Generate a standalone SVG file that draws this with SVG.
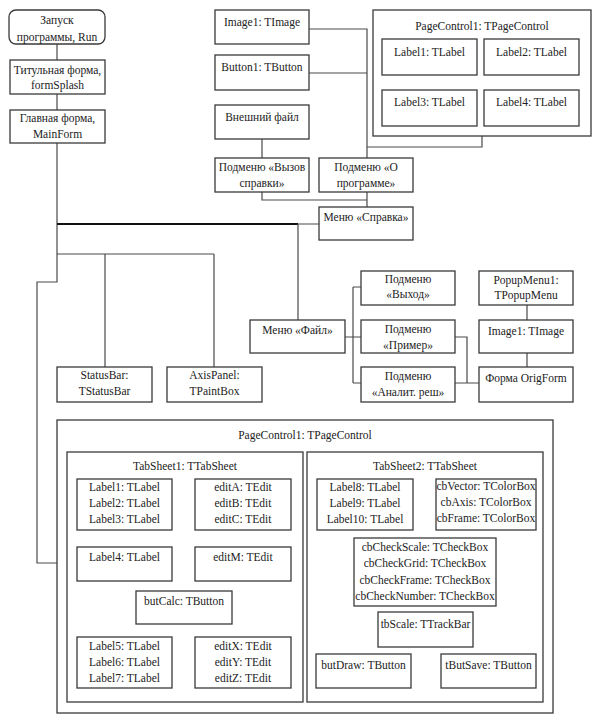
<svg xmlns="http://www.w3.org/2000/svg" width="594" height="722" viewBox="0 0 594 722">
<style>
rect{fill:#fff;stroke:#3a3a3a;stroke-width:1.3}
text{font-family:"Liberation Serif","Times New Roman",serif;font-size:11.5px;fill:#222;text-anchor:middle}
.c{fill:none;stroke:#4a4a4a;stroke-width:1.2}
.t{fill:none;stroke:#111;stroke-width:2}
</style>
<rect x="0" y="0" width="594" height="722" style="fill:#fff;stroke:none"/>
<g id="connectors">
<path class="c" d="M57 44V60M57 94V110M57 143V282H37V563H57"/>
<path class="t" d="M57 224H298"/>
<path class="c" d="M298 224H319M298 224V320"/>
<path class="c" d="M57 254H214M105 254V367M214 254V367"/>
<path class="c" d="M262 139V158M262 192V200H367M309 29H367V158M309 73H367M367 147H482V136M367 192V207"/>
<path class="c" d="M345 337H361M353 287V383M353 287H361M353 383H361"/>
<path class="c" d="M455 337H467V383M455 383H479"/>
<path class="c" d="M527 305V320M527 353V367"/>
<path class="c" d="M172 504H195M172 564H195M172 663H195M413 504H436"/>
</g>
<g id="run"><rect x="9" y="10" width="96" height="34" rx="7"/><text x="57" y="24">Запуск</text><text x="57" y="41">программы, Run</text></g>
<g id="splash"><rect x="10" y="60" width="95" height="34"/><text x="57.5" y="74">Титульная форма,</text><text x="57.5" y="89">formSplash</text></g>
<g id="mainform"><rect x="10" y="110" width="95" height="33"/><text x="57.5" y="122">Главная форма,</text><text x="57.5" y="138">MainForm</text></g>
<g id="image1top"><rect x="215" y="10" width="94" height="34"/><text x="262" y="26">Image1: TImage</text></g>
<g id="button1"><rect x="215" y="55" width="94" height="35"/><text x="262" y="71">Button1: TButton</text></g>
<g id="extfile"><rect x="215" y="105" width="94" height="34"/><text x="262" y="121">Внешний файл</text></g>
<g id="helpcall"><rect x="215" y="158" width="94" height="34"/><text x="262" y="171">Подменю «Вызов</text><text x="262" y="187">справки»</text></g>
<g id="about"><rect x="319" y="158" width="94" height="34"/><text x="366" y="171">Подменю «О</text><text x="366" y="187">программе»</text></g>
<g id="helpmenu"><rect x="319" y="207" width="94" height="33"/><text x="366" y="221">Меню «Справка»</text></g>
<g id="pagecontrolTop"><rect x="373" y="10" width="218" height="126"/><text x="482" y="30">PageControl1: TPageControl</text>
<rect x="382" y="39" width="95" height="36"/><text x="429.5" y="56">Label1: TLabel</text>
<rect x="484" y="39" width="95" height="36"/><text x="531.5" y="56">Label2: TLabel</text>
<rect x="382" y="90" width="95" height="36"/><text x="429.5" y="106">Label3: TLabel</text>
<rect x="484" y="90" width="95" height="36"/><text x="531.5" y="106">Label4: TLabel</text></g>
<g id="statusbar"><rect x="57" y="367" width="95" height="35"/><text x="104.5" y="379">StatusBar:</text><text x="104.5" y="395">TStatusBar</text></g>
<g id="axispanel"><rect x="167" y="367" width="95" height="35"/><text x="214.5" y="379">AxisPanel:</text><text x="214.5" y="395">TPaintBox</text></g>
<g id="filemenu"><rect x="250" y="320" width="95" height="33"/><text x="297.5" y="334">Меню «Файл»</text></g>
<g id="exit"><rect x="361" y="271" width="94" height="34"/><text x="408" y="283">Подменю</text><text x="408" y="298">«Выход»</text></g>
<g id="example"><rect x="361" y="320" width="94" height="33"/><text x="408" y="333">Подменю</text><text x="408" y="349">«Пример»</text></g>
<g id="analyt"><rect x="361" y="367" width="94" height="35"/><text x="408" y="380">Подменю</text><text x="408" y="396">«Аналит. реш»</text></g>
<g id="popup"><rect x="479" y="271" width="94" height="34"/><text x="526" y="284">PopupMenu1:</text><text x="526" y="299">TPopupMenu</text></g>
<g id="image1orig"><rect x="479" y="320" width="94" height="33"/><text x="526" y="335">Image1: TImage</text></g>
<g id="origform"><rect x="479" y="367" width="94" height="35"/><text x="526" y="382">Форма OrigForm</text></g>
<g id="pagecontrolBottom"><rect x="57" y="420" width="496" height="293"/><text x="305" y="439">PageControl1: TPageControl</text></g>
<g id="tabsheet1"><rect x="67" y="452" width="236" height="250"/><text x="185" y="470">TabSheet1: TTabSheet</text>
<rect x="77" y="479" width="95" height="51"/><text x="124.5" y="491">Label1: TLabel</text><text x="124.5" y="507">Label2: TLabel</text><text x="124.5" y="523">Label3: TLabel</text>
<rect x="195" y="479" width="96" height="51"/><text x="243" y="491">editA: TEdit</text><text x="243" y="507">editB: TEdit</text><text x="243" y="523">editC: TEdit</text>
<rect x="77" y="547" width="95" height="34"/><text x="124.5" y="561">Label4: TLabel</text>
<rect x="195" y="547" width="96" height="34"/><text x="243" y="561">editM: TEdit</text>
<rect x="136" y="591" width="96" height="33"/><text x="184" y="605">butCalc: TButton</text>
<rect x="77" y="637" width="95" height="51"/><text x="124.5" y="650">Label5: TLabel</text><text x="124.5" y="666">Label6: TLabel</text><text x="124.5" y="682">Label7: TLabel</text>
<rect x="195" y="637" width="96" height="51"/><text x="243" y="650">editX: TEdit</text><text x="243" y="666">editY: TEdit</text><text x="243" y="682">editZ: TEdit</text></g>
<g id="tabsheet2"><rect x="307" y="452" width="236" height="250"/><text x="425" y="470">TabSheet2: TTabSheet</text>
<rect x="317" y="479" width="96" height="51"/><text x="365" y="491">Label8: TLabel</text><text x="365" y="507">Label9: TLabel</text><text x="365" y="523">Label10: TLabel</text>
<rect x="436" y="479" width="100" height="51"/><text x="486" y="490">cbVector: TColorBox</text><text x="486" y="506">cbAxis: TColorBox</text><text x="486" y="522">cbFrame: TColorBox</text>
<rect x="354" y="538" width="142" height="68"/><text x="425" y="551">cbCheckScale: TCheckBox</text><text x="425" y="567">cbCheckGrid: TCheckBox</text><text x="425" y="584">cbCheckFrame: TCheckBox</text><text x="425" y="600">cbCheckNumber: TCheckBox</text>
<rect x="378" y="612" width="95" height="35"/><text x="425.5" y="628">tbScale: TTrackBar</text>
<rect x="316" y="654" width="95" height="34"/><text x="363.5" y="669">butDraw: TButton</text>
<rect x="441" y="654" width="95" height="34"/><text x="488.5" y="669">tButSave: TButton</text></g>
</svg>
